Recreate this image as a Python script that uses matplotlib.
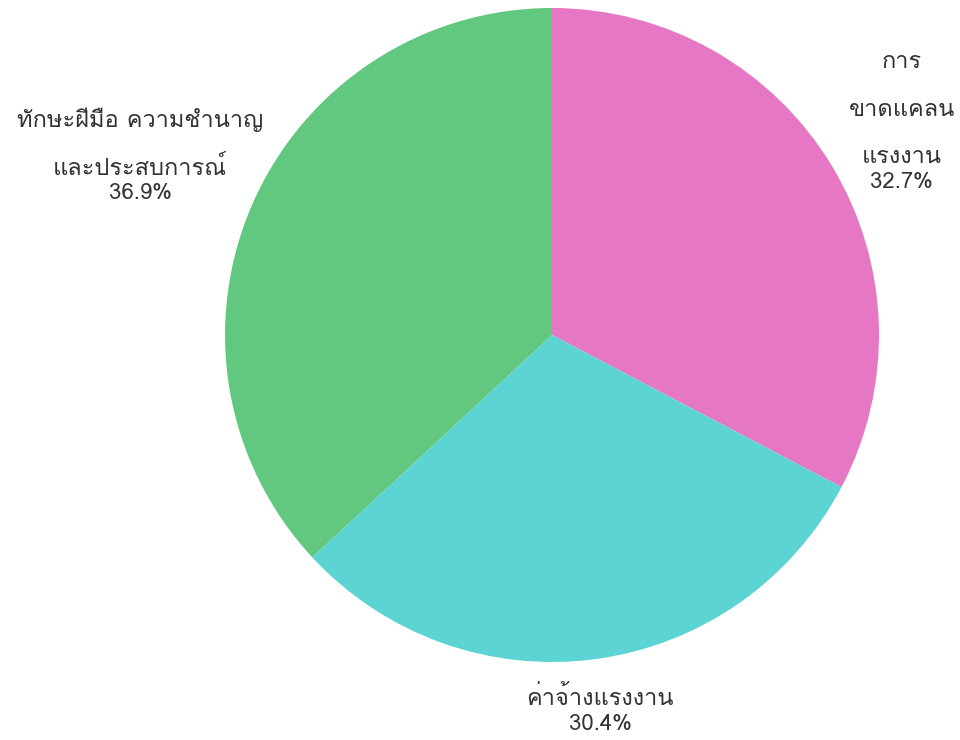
"""Pie chart: reasons (Thai labels) with percentage shares."""

import matplotlib

matplotlib.use("Agg")
import matplotlib.pyplot as plt
from matplotlib import font_manager

# Data
label_lines = [
    ["การ", "ขาดแคลน", "แรงงาน"],
    ["ค่าจ้างแรงงาน"],
    ["ทักษะฝีมือ ความชำนาญ", "และประสบการณ์"],
]
shares = [32.7, 30.4, 36.9]
colors = ["#E677C4", "#5DD4D4", "#62C880"]


# Pick an installed family that has Thai glyphs, fall back to DejaVu
def thai_family():
    for entry in font_manager.fontManager.ttflist:
        try:
            font = matplotlib.ft2font.FT2Font(entry.fname)
            if ord("ก") in font.get_charmap():
                return entry.name
        except Exception:
            continue
    return "DejaVu Sans"


plt.rcParams["font.family"] = [thai_family(), "DejaVu Sans"]

fig = plt.figure(figsize=(9.6, 7.4), dpi=100)
ax = fig.add_axes([0.2344, 0.1054, 0.68125, 0.8838])
ax.pie(
    shares,
    colors=colors,
    startangle=90,
    counterclock=False,
    radius=1.0,
    wedgeprops={"linewidth": 0},
)
ax.set_xlim(-1, 1)
ax.set_ylim(-1, 1)
ax.set_aspect("equal")
ax.axis("off")

# Label anchor (x, y of first line) per slice, in data units
anchors = [(1.07, 0.835), (0.147, -1.11), (-1.26, 0.657)]
thai_step = 0.145
pct_step = 0.08
for lines, share, (x, y) in zip(label_lines, shares, anchors, strict=True):
    for i, line in enumerate(lines):
        ax.text(x, y - i * thai_step, line, ha="center", va="center",
                fontsize=17, color="#333333", clip_on=False)
    y_pct = y - (len(lines) - 1) * thai_step - pct_step
    ax.text(x, y_pct, f"{share}%", ha="center", va="center",
            fontsize=16, color="#333333", clip_on=False)

fig.savefig("out.png", dpi=100)
